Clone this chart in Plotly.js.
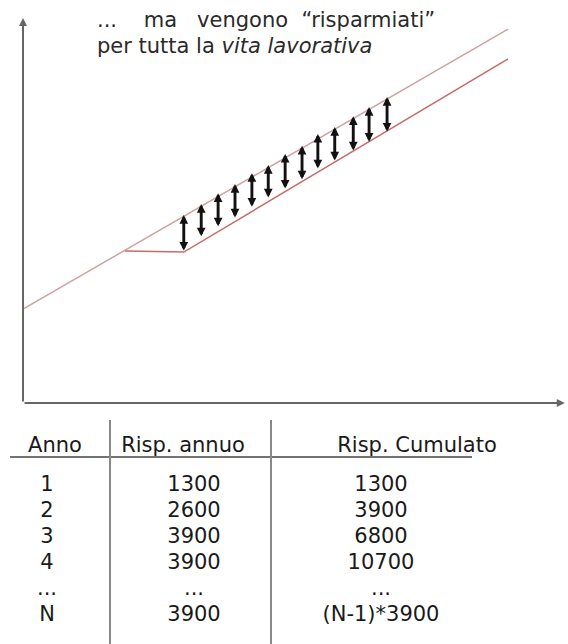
<!DOCTYPE html>
<html>
<head>
<meta charset="utf-8">
<script src="https://cdn.plot.ly/plotly-3.0.1.min.js"></script>
<style>html,body{margin:0;padding:0;background:#fff;}#chart{width:568px;height:644px;}</style>
</head>
<body>
<div id="chart"></div>
<script>
// ---- Data (chart units: time 0-100, income 0-100) ----
const upperX = [0, 89.0];
const upperY = [24.4, 97.1];
const lowerX = [18.7, 29.5, 89.0];
const lowerY = [39.5, 39.2, 89.4];
const arrowX = [29.5, 32.7, 35.8, 38.9, 42.0, 45.0, 48.1, 51.2, 54.1, 57.2, 60.6, 63.5, 66.8];
const arrowTop = [48.8, 51.7, 54.5, 56.9, 59.7, 61.8, 64.7, 66.8, 69.9, 71.7, 74.5, 76.9, 79.5];
const arrowBottom = [39.2, 42.9, 45.5, 47.8, 50.6, 53.0, 55.3, 57.7, 60.5, 62.6, 65.2, 67.5, 70.1];

const titleLine1 = "...\u00a0\u00a0\u00a0\u00a0ma\u00a0\u00a0\u00a0vengono\u00a0\u00a0\u201crisparmiati\u201d";
const titleLine2 = "per tutta la <i>vita lavorativa</i>";

const tableHeaders = ["Anno", "Risp. annuo", "Risp. Cumulato"];
const anni = ["1", "2", "3", "4", "...", "N"];
const rispAnnuo = ["1300", "2600", "3900", "3900", "...", "3900"];
const rispCumulato = ["1300", "3900", "6800", "10700", "...", "(N-1)*3900"];

// ---- Positions / styles ----
const FONT = "DejaVu Sans, Verdana, sans-serif";
const TXT = "#1a1a1a";
const headerPos = [55, 183, 417];
const colPos = [47, 194, 381];
const headerRow = -0.5;

const columns = [anni, rispAnnuo, rispCumulato];
const tx = [], ty = [], tt = [];
columns.forEach((col, c) => {
  col.forEach((v, r) => { tx.push(colPos[c]); ty.push(r + 1); tt.push(v); });
});

const traces = [
  { x: upperX, y: upperY, mode: "lines", line: { color: "#cfa2a2", width: 1.5 }, hoverinfo: "skip" },
  { x: lowerX, y: lowerY, mode: "lines", line: { color: "#c86a6a", width: 1.5 }, hoverinfo: "skip" },
  { x: headerPos, y: headerPos.map(() => headerRow), text: tableHeaders, mode: "text",
    textposition: "middle center", textfont: { family: FONT, size: 21, color: TXT },
    xaxis: "x2", yaxis: "y2", hoverinfo: "skip", cliponaxis: false },
  { x: tx, y: ty, text: tt, mode: "text", textposition: "middle center",
    textfont: { family: FONT, size: 21, color: TXT },
    xaxis: "x2", yaxis: "y2", hoverinfo: "skip", cliponaxis: false }
];

const annotations = [];
// axes with arrow heads
annotations.push({ xref: "x", yref: "y", x: 0, y: 100, axref: "x", ayref: "y", ax: 0, ay: 0,
  showarrow: true, arrowhead: 2, arrowsize: 0.8, arrowwidth: 2, arrowcolor: "#666", text: "", standoff: 0 });
annotations.push({ xref: "x", yref: "y", x: 99.4, y: 0, axref: "x", ayref: "y", ax: 0, ay: 0,
  showarrow: true, arrowhead: 2, arrowsize: 0.8, arrowwidth: 2, arrowcolor: "#666", text: "", standoff: 0 });
// double-headed savings arrows
arrowX.forEach((x, i) => {
  annotations.push({ xref: "x", yref: "y", x: x, y: arrowTop[i], axref: "x", ayref: "y", ax: x, ay: arrowBottom[i],
    showarrow: true, arrowside: "end+start", arrowhead: 2, startarrowhead: 2,
    arrowsize: 0.6, startarrowsize: 0.6, arrowwidth: 2.9, arrowcolor: "#111", text: "",
    standoff: 0, startstandoff: 0 });
});
// title lines
annotations.push({ xref: "paper", yref: "paper", x: 95 / 568, y: 1 - 20 / 644, xanchor: "left", yanchor: "middle",
  text: titleLine1, showarrow: false, font: { family: FONT, size: 21, color: "#2a2a2a" } });
annotations.push({ xref: "paper", yref: "paper", x: 95 / 568, y: 1 - 46 / 644, xanchor: "left", yanchor: "middle",
  text: titleLine2, showarrow: false, font: { family: FONT, size: 21, color: "#2a2a2a" } });

const shapes = [
  { type: "line", xref: "x2", yref: "y2", x0: 10, x1: 472, y0: -0.09, y1: -0.09, line: { color: "#444", width: 1.6 } },
  { type: "line", xref: "x2", yref: "y2", x0: 110, x1: 110, y0: -1.51, y1: 7.07, line: { color: "#888", width: 2 } },
  { type: "line", xref: "x2", yref: "y2", x0: 271, x1: 271, y0: -1.51, y1: 7.07, line: { color: "#888", width: 2 } }
];

const hidden = { visible: false, showgrid: false, zeroline: false, fixedrange: true };
const layout = {
  width: 568, height: 644,
  margin: { l: 0, r: 0, t: 0, b: 0 },
  paper_bgcolor: "#fff", plot_bgcolor: "rgba(0,0,0,0)",
  showlegend: false,
  xaxis: Object.assign({ domain: [23 / 568, 1], range: [0, 100], anchor: "y" }, hidden),
  yaxis: Object.assign({ domain: [241 / 644, 626 / 644], range: [0, 100], anchor: "x" }, hidden),
  xaxis2: Object.assign({ domain: [0, 1], range: [0, 568], anchor: "y2" }, hidden),
  yaxis2: Object.assign({ domain: [0, 234 / 644], range: [7.073, -1.893], anchor: "x2" }, hidden),
  annotations: annotations,
  shapes: shapes
};

Plotly.newPlot("chart", traces, layout, { staticPlot: true, displayModeBar: false });
</script>
</body>
</html>
